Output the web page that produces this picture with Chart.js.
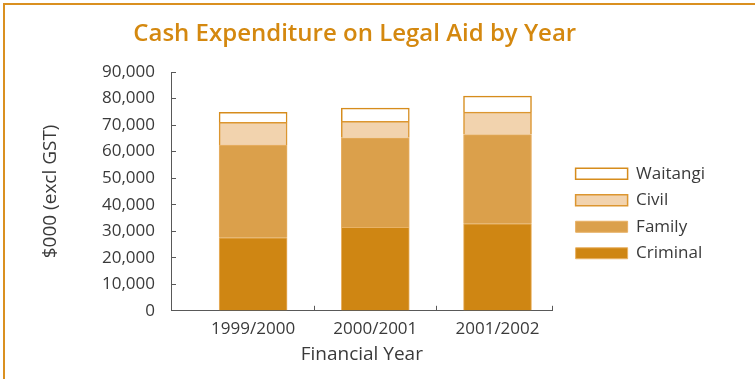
<!DOCTYPE html>
<html>
<head>
<meta charset="utf-8">
<script src="https://cdn.jsdelivr.net/npm/chart.js@4/dist/chart.umd.min.js"></script>
<style>
  html, body { margin: 0; padding: 0; background: #fff; }
  #wrap { position: relative; width: 755px; height: 379px; }
  #frame {
    position: absolute; left: 3px; top: 3px; right: 0; bottom: 0;
    border-top: 2px solid #DA9020; border-left: 2px solid #DA9020;
  }
  #cashChart { position: absolute; left: 0; top: 0; }
</style>
</head>
<body>
<div id="wrap">
  <div id="frame"></div>
  <canvas id="cashChart" width="755" height="379"></canvas>
</div>
<script>
const years = ['1999/2000', '2000/2001', '2001/2002']

// $000 excl GST, per year
const criminal = [27500, 31500, 32800]
const family   = [35000, 33700, 33600]
const civil    = [ 8500,  6200,  8500]
const waitangi = [ 3800,  5000,  6000]

const yTicks = [0, 10000, 20000, 30000, 40000, 50000, 60000, 70000, 80000, 90000]

const axisGrey = '#595959'
const textGrey = '#3a3a3a'
const font = 'Open Sans'

const xMin = -0.172
const xMax = 2.951

// bars sit in the middle of each year slot on a numeric x axis
function toPoints(values){
  return values.map((v, i) => ({ x: i + 0.5, y: v }))
}

const isLabelTick = v => Math.abs(v % 1 - 0.5) < 1e-6

// push the legend a little away from the plot area
const legendGap = {
  id: 'legendGap',
  afterLayout(chart){
    const l = chart.legend
    l.left += 13.5
    l.right += 13.5
  }
}

const ctx =
  document.getElementById('cashChart')

new Chart(ctx, {

  type: 'bar',

  data: {
    datasets: [
      {
        label: 'Criminal',
        data: toPoints(criminal),
        backgroundColor: '#CF8613',
        borderColor: '#E9B265',
        borderWidth: 1
      },
      {
        label: 'Family',
        data: toPoints(family),
        backgroundColor: '#DBA04B',
        borderColor: '#E8B064',
        borderWidth: 1
      },
      {
        label: 'Civil',
        data: toPoints(civil),
        backgroundColor: '#F2D3AE',
        borderColor: '#DC9630',
        borderWidth: 1.5
      },
      {
        label: 'Waitangi',
        data: toPoints(waitangi),
        backgroundColor: '#FFFFFF',
        borderColor: '#D68C1C',
        borderWidth: 1.5
      }
    ]
  },

  plugins: [legendGap],

  options: {
    responsive: false,
    animation: false,
    barThickness: 68,

    layout: {
      padding: { left: 8, right: 53.5, top: 0, bottom: 0 }
    },

    plugins: {
      title: {
        display: true,
        text: 'Cash Expenditure on Legal Aid by Year',
        color: '#D4880F',
        font: { family: font, size: 24, weight: '600' },
        padding: { top: 19.6, bottom: 23.6 }
      },
      legend: {
        position: 'right',
        reverse: true,
        title: {
          display: true,
          text: ' ',
          font: { size: 10 },
          padding: { top: 36, bottom: 0 }
        },
        labels: {
          boxWidth: 52,
          boxHeight: 11,
          padding: 9.5,
          color: textGrey,
          font: { family: font, size: 17 }
        }
      },
      tooltip: { enabled: false }
    },

    scales: {
      x: {
        type: 'linear',
        stacked: true,
        offset: false,
        min: xMin,
        max: xMax,
        // year labels at slot centres, tick marks at slot edges and axis end
        afterBuildTicks: scale => {
          scale.ticks = [0.5, 1, 1.5, 2, 2.5, xMax].map(v => ({ value: v }))
        },
        ticks: {
          autoSkip: false,
          maxRotation: 0,
          padding: 13,
          color: textGrey,
          font: { family: font, size: 17 },
          callback: value =>
            isLabelTick(value) ? years[Math.round(value - 0.5)] : ''
        },
        grid: {
          drawOnChartArea: false,
          offset: false,
          tickLength: -5,
          color: c => (c.tick && isLabelTick(c.tick.value)) ? 'rgba(0,0,0,0)' : axisGrey
        },
        border: { color: axisGrey, width: 1 },
        title: {
          display: true,
          text: 'Financial Year',
          color: textGrey,
          font: { family: font, size: 19 },
          padding: { top: -8.6, bottom: 12.6 }
        }
      },
      y: {
        stacked: true,
        min: 0,
        max: 90000,
        afterBuildTicks: scale => {
          scale.ticks = yTicks.map(v => ({ value: v }))
        },
        afterFit: scale => { scale.width = 163 },
        ticks: {
          padding: 21,
          color: textGrey,
          font: { family: font, size: 17 },
          callback: value => value.toLocaleString('en-US')
        },
        grid: {
          drawOnChartArea: false,
          tickLength: -5,
          color: axisGrey
        },
        border: { color: axisGrey, width: 1 },
        title: {
          display: true,
          text: '$000 (excl GST)',
          color: textGrey,
          font: { family: font, size: 19 },
          padding: { top: 31, bottom: 0 }
        }
      }
    }
  }
})
</script>
</body>
</html>
